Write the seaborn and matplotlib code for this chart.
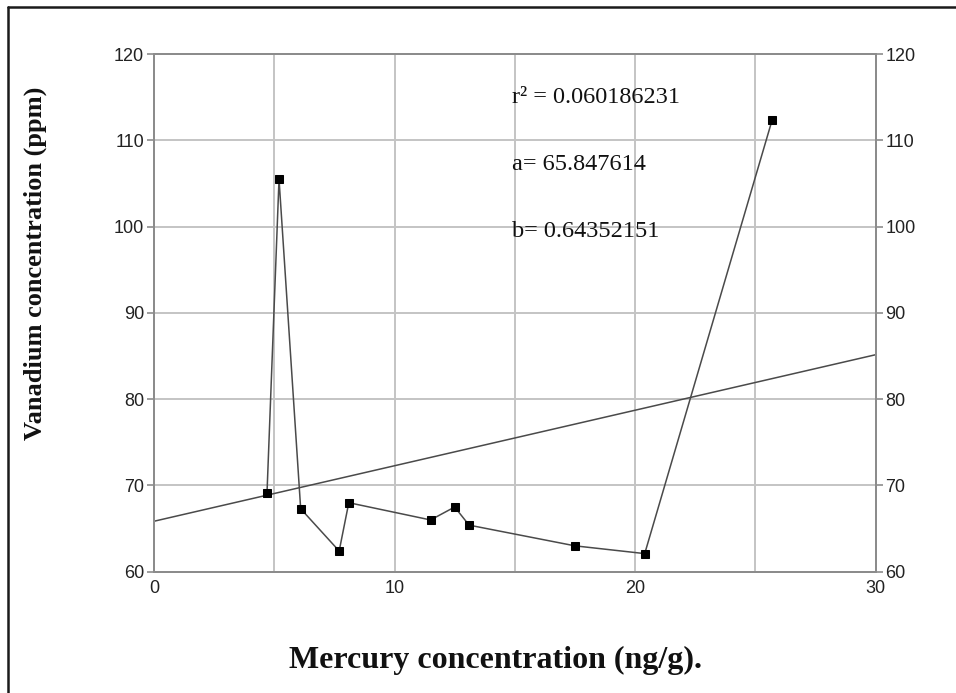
import numpy as np
import pandas as pd
import matplotlib
matplotlib.use("Agg")
import matplotlib.pyplot as plt
from matplotlib.lines import Line2D
import seaborn as sns

# ------------------------------------------ DATA ------------------------------------------------------------#
mercury = [4.7, 5.2, 6.1, 7.7, 8.1, 11.5, 12.5, 13.1, 17.5, 20.4, 25.7]
vanadium = [69.1, 105.5, 67.3, 62.4, 68.0, 66.0, 67.5, 65.4, 63.0, 62.1, 112.4]
r2 = 0.060186231
a = 65.847614
b = 0.64352151
x_ticks = [0, 10, 20, 30]
y_ticks = [60, 70, 80, 90, 100, 110, 120]

df = pd.DataFrame({'Hg': mercury, 'V': vanadium})
fit_x = np.array([0, 30])
df_fit = pd.DataFrame({'Hg': fit_x, 'V': a + b * fit_x})

# ------------------------------------------ PLOT ------------------------------------------------------------#
sns.set_style("white")
plt.rcParams['font.family'] = ['Liberation Sans', 'DejaVu Sans']

fig = plt.figure(figsize=(9.56, 6.93), dpi=100)
ax = fig.add_axes([0.161, 0.175, 0.755, 0.747])

sns.lineplot(x='Hg', y='V', data=df_fit, ax=ax, color='#4a4a4a', lw=1.1, zorder=2)
sns.lineplot(x='Hg', y='V', data=df, ax=ax, sort=False, color='#4a4a4a', lw=1.1,
             marker='s', markersize=5.5, markerfacecolor='black', markeredgecolor='black', zorder=3)

ax.set_xlim(0, 30)
ax.set_ylim(60, 120)
ax.set_xticks(x_ticks)
ax.set_yticks(y_ticks)
ax.set_xticks([5, 15, 25], minor=True)
ax.grid(True, which='both', axis='x', color='#c4c4c4', lw=1.4)
ax.grid(True, which='major', axis='y', color='#c4c4c4', lw=1.4)
ax.set_axisbelow(True)
for s in ax.spines.values():
    s.set_color('#8c8c8c')
    s.set_linewidth(1.4)
ax.tick_params(axis='x', which='both', length=0, pad=6, labelsize=13, labelcolor='#222222')
ax.tick_params(axis='y', length=5, width=1.2, color='#8c8c8c', pad=2, labelsize=13, labelcolor='#222222')
ax.set_xlabel('')
ax.set_ylabel('')

ax2 = ax.twinx()
ax2.set_ylim(60, 120)
ax2.set_yticks(y_ticks)
ax2.tick_params(axis='y', length=5, width=1.2, color='#8c8c8c', pad=2, labelsize=13, labelcolor='#222222')
for s in ax2.spines.values():
    s.set_color('#8c8c8c')
    s.set_linewidth(1.4)

serif = ['Liberation Serif', 'DejaVu Serif']
ax.text(14.9, 115.0, 'r\u00b2 = {0}'.format(r2), family=serif, fontsize=17.5, va='center', ha='left', color='#111111')
ax.text(14.9, 107.2, 'a= {0}'.format(a), family=serif, fontsize=17.5, va='center', ha='left', color='#111111')
ax.text(14.9, 99.4, 'b= {0}'.format(b), family=serif, fontsize=17.5, va='center', ha='left', color='#111111')

fig.text(0.518, 0.047, 'Mercury concentration (ng/g).', family=serif, fontsize=23,
         fontweight='bold', ha='center', va='center', color='#111111')
fig.text(0.037, 0.62, 'Vanadium concentration (ppm)', family=serif, fontsize=19,
         fontweight='bold', ha='center', va='center', rotation=90, color='#111111')

# outer frame (left and top edges)
fig.add_artist(Line2D([0.0085, 0.0085], [0.0, 0.99], transform=fig.transFigure, color='#1a1a1a', lw=1.8))
fig.add_artist(Line2D([0.0085, 1.0], [0.99, 0.99], transform=fig.transFigure, color='#1a1a1a', lw=1.8))

plt.savefig('out.png', dpi=100)
